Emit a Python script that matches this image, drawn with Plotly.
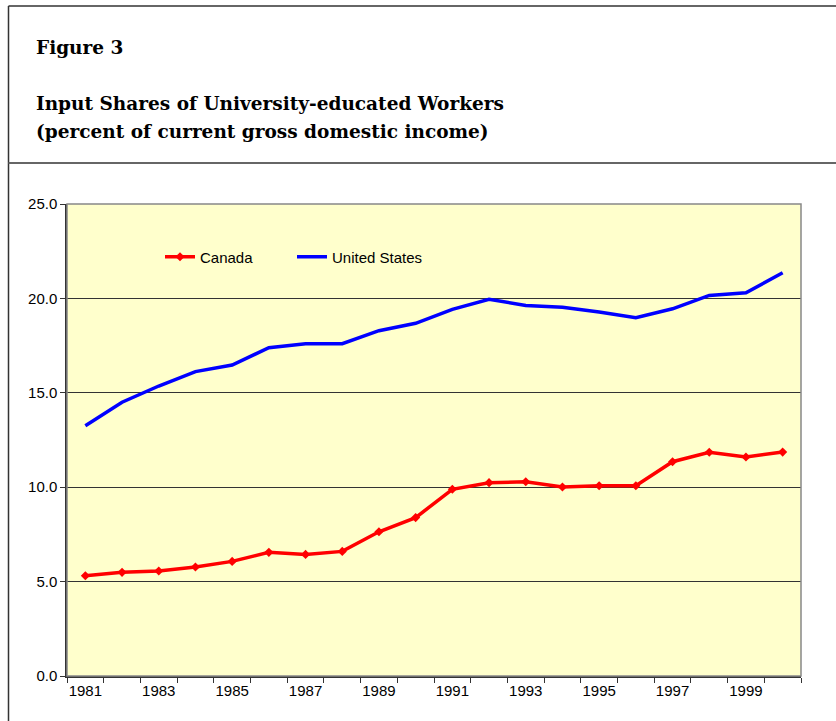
import plotly.graph_objects as go

years = list(range(1981, 2001))
canada = [5.31, 5.49, 5.56, 5.77, 6.07, 6.55, 6.44, 6.60, 7.64, 8.39,
          9.89, 10.24, 10.29, 10.01, 10.08, 10.08, 11.35, 11.85, 11.60, 11.86]
united_states = [13.26, 14.50, 15.36, 16.12, 16.47, 17.39, 17.60, 17.60, 18.29, 18.68,
                 19.42, 19.95, 19.63, 19.53, 19.28, 18.98, 19.45, 20.16, 20.30, 21.36]
x_tick_labels = [str(y) for y in range(1981, 2001, 2)]
y_ticks = [0, 5, 10, 15, 20, 25]

W, H = 836, 721
L, R, T, B = 67, 801, 204, 676

def px(x):
    return (x - L) / (R - L)

def py(y):
    return (B - y) / (B - T)

fig = go.Figure()
fig.add_trace(go.Scatter(
    x=years, y=canada, name="Canada", mode="lines+markers",
    line=dict(color="#FF0000", width=3.5),
    marker=dict(symbol="diamond", size=7, color="#FF0000"),
))
fig.add_trace(go.Scatter(
    x=years, y=united_states, name="United States", mode="lines",
    line=dict(color="#0000FF", width=3.5),
))

shapes = [
    dict(type="line", xref="paper", yref="paper", x0=px(8.5), x1=px(836), y0=py(6), y1=py(6),
         line=dict(color="#333333", width=1.5)),
    dict(type="line", xref="paper", yref="paper", x0=px(8.5), x1=px(8.5), y0=py(6), y1=py(721),
         line=dict(color="#333333", width=1.5)),
    dict(type="line", xref="paper", yref="paper", x0=px(8.5), x1=px(836), y0=py(163), y1=py(163),
         line=dict(color="#666666", width=2)),
    dict(type="rect", xref="paper", yref="paper", x0=0, x1=1, y0=0, y1=1,
         line=dict(color="#888888", width=1.5), layer="above"),
]

title_font = dict(family="DejaVu Serif, Times New Roman", size=18.5, color="black")

fig.update_layout(
    width=W, height=H,
    margin=dict(l=L, r=W - R, t=T, b=H - B, pad=0),
    paper_bgcolor="white",
    plot_bgcolor="#FFFFCC",
    font=dict(family="Liberation Sans, Arial", size=15, color="black"),
    shapes=shapes,
    showlegend=True,
    legend=dict(
        orientation="h", x=px(160), y=py(257), xanchor="left", yanchor="middle",
        bgcolor="rgba(0,0,0,0)", font=dict(size=15),
        entrywidth=87, entrywidthmode="pixels",
    ),
    xaxis=dict(
        range=[1980.5, 2000.5],
        tickvals=list(range(1981, 2001, 2)), ticktext=x_tick_labels,
        ticks="", showgrid=False, zeroline=False,
        showline=True, linecolor="#333333", linewidth=1.5,
        tickfont=dict(size=15),
        minor=dict(tickvals=[y + 0.5 for y in range(1980, 2001)], ticks="outside",
                   ticklen=5, tickcolor="#333333", tickwidth=1, showgrid=False),
    ),
    yaxis=dict(
        range=[0, 25], tickvals=y_ticks, tickformat=".1f",
        ticks="outside", ticklen=5, tickcolor="#333333",
        showgrid=True, gridcolor="#333333", gridwidth=1, zeroline=False,
        showline=True, linecolor="#333333", linewidth=1.5,
        tickfont=dict(size=15),
    ),
    annotations=[
        dict(text="<b>Figure 3</b>", xref="paper", yref="paper", x=px(34), y=py(47),
             xanchor="left", yanchor="middle", showarrow=False, font=title_font),
        dict(text="<b>Input Shares of University-educated Workers</b>", xref="paper", yref="paper",
             x=px(34), y=py(103), xanchor="left", yanchor="middle", showarrow=False, font=title_font),
        dict(text="<b>(percent of current gross domestic income)</b>", xref="paper", yref="paper",
             x=px(34), y=py(131), xanchor="left", yanchor="middle", showarrow=False, font=title_font),
    ],
)

fig.write_html("out.html", config={"displayModeBar": False},
               post_script="document.body.style.margin='0';")
